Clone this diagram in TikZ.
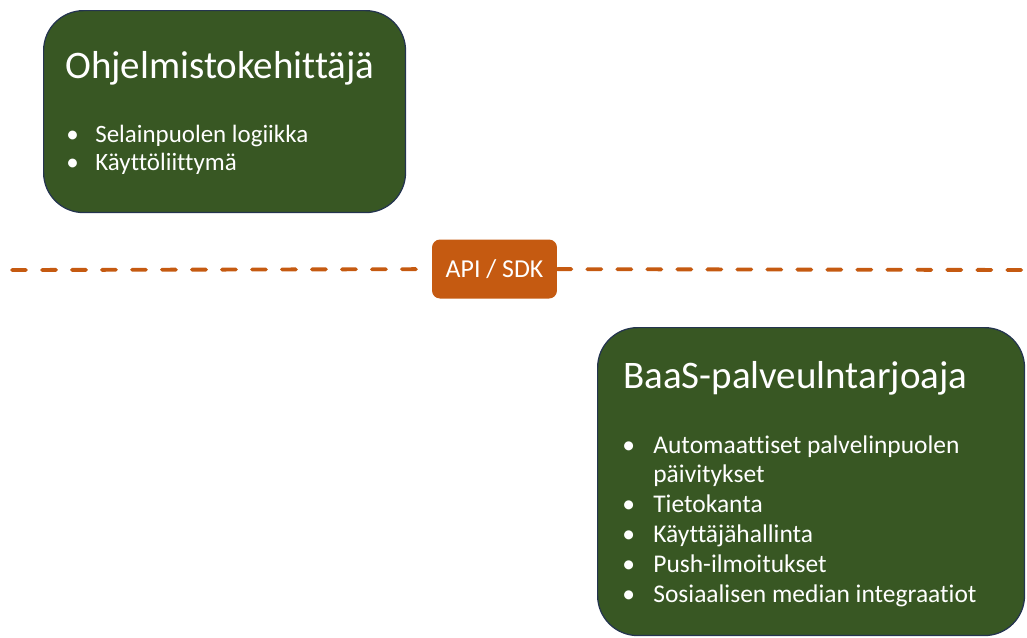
\documentclass[tikz,border=0pt]{standalone}
\usepackage{fontspec}
\setmainfont[Ligatures=NoCommon]{Carlito}
\usetikzlibrary{positioning}

\definecolor{boxgreen}{HTML}{385723}
\definecolor{boxline}{HTML}{24344F}
\definecolor{apiorange}{HTML}{C55A11}

\begin{document}
\begin{tikzpicture}[
  x=0.02cm, y=-0.02cm,
  rolebox/.style = {draw=boxline, line width=0.7pt, fill=boxgreen, rounded corners=0.8cm, anchor=north west, inner sep=0pt},
  title/.style = {text=white, anchor=base west, inner sep=0pt, font=\fontsize{22.2}{26}\selectfont},
  items/.style = {text=white, anchor=base west, inner sep=0pt},
  apibox/.style = {fill=apiorange, text=white, rounded corners=0.16cm, minimum width=2.5cm, minimum height=1.18cm, inner sep=0pt, font=\fontsize{14.7}{16}\selectfont},
  apiline/.style = {draw=apiorange, line width=2.2pt, line cap=round, dash pattern=on 0.28cm off 0.32cm}
  ]
	\useasboundingbox (0,0) rectangle (1027,637);

	\coordinate (lineL) at (12,270);
	\coordinate (lineR) at (1027,270);

	% developer side
	\node[rolebox, minimum width=7.24cm, minimum height=4.04cm] (dev) at (43,10) {};
	\node[title] (devtitle) at (65,78) {Ohjelmistokehittäjä};
	\node[items, font=\fontsize{14.2}{15.8}\selectfont] (devlist) at (66,142.5) {%
		\begin{tabular}[t]{@{}p{0.58cm}@{}l@{}}
		\textbullet & Selainpuolen logiikka\\
		\textbullet & Käyttöliittymä
		\end{tabular}};

	% api layer
	\node[apibox] (api) at (494.5,269) {API / SDK};
	\draw[apiline] (lineL) -- (api);
	\draw[apiline] (api) -- (lineR);

	% service provider side
	\node[rolebox, minimum width=8.54cm, minimum height=6.16cm] (baas) at (597,327) {};
	\node[title] (baastitle) at (623,388) {BaaS-palveulntarjoaja};
	\node[items, font=\fontsize{14.5}{17}\selectfont] (baaslist) at (622,453) {%
		\begin{tabular}[t]{@{}p{0.62cm}@{}l@{}}
		\textbullet & Automaattiset palvelinpuolen\\
		 & päivitykset\\
		\textbullet & Tietokanta\\
		\textbullet & Käyttäjähallinta\\
		\textbullet & Push-ilmoitukset\\
		\textbullet & Sosiaalisen median integraatiot
		\end{tabular}};

\end{tikzpicture}
\end{document}
